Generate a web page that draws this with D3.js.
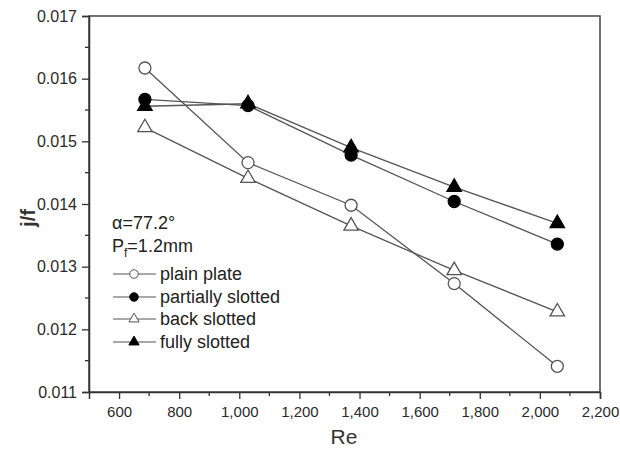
<!DOCTYPE html>
<html><head><meta charset="utf-8">
<script src="https://cdn.jsdelivr.net/npm/d3@7"></script>
<style>body{margin:0;background:#fff}svg{display:block}</style>
</head><body><svg id="c" width="620" height="449"></svg>
<script>
const reValues = [686, 1029, 1372, 1715, 2058];
const plainPlate = [0.01617, 0.01466, 0.01398, 0.01273, 0.01141];
const partiallySlotted = [0.01567, 0.01557, 0.01478, 0.01404, 0.01336];
const backSlotted = [0.01522, 0.01441, 0.01365, 0.01294, 0.01228];
const fullySlotted = [0.01556, 0.01560, 0.01490, 0.01427, 0.01369];
const seriesNames = ["plain plate", "partially slotted", "back slotted", "fully slotted"];
const xTicks = [600, 800, 1000, 1200, 1400, 1600, 1800, 2000, 2200];
const yTicks = [0.011, 0.012, 0.013, 0.014, 0.015, 0.016, 0.017];
const xDomain = [500, 2200];
const yDomain = [0.011, 0.017];

const svg = d3.select("#c");
const L = 89, R = 600, T = 16, B = 392;
const x = d3.scaleLinear().domain(xDomain).range([L, R]);
const y = d3.scaleLinear().domain(yDomain).range([B, T]);
const axisColor = "#333";
const lineColor = "#555";
const font = "Liberation Sans, Arial, sans-serif";

const series = [
  {name: seriesNames[0], vals: plainPlate, shape: "circle", fill: "#fff"},
  {name: seriesNames[1], vals: partiallySlotted, shape: "circle", fill: "#000"},
  {name: seriesNames[2], vals: backSlotted, shape: "triangle", fill: "#fff"},
  {name: seriesNames[3], vals: fullySlotted, shape: "triangle", fill: "#000"}
];
const drawOrder = [0, 2, 3, 1];

// frame
svg.append("rect").attr("x", L).attr("y", T).attr("width", R - L).attr("height", B - T)
  .attr("fill", "none").attr("stroke", "#444").attr("stroke-width", 1.5);

// minor ticks
const xMinor = d3.range(500, 2201, 100).filter(v => !xTicks.includes(v) && v !== 500);
const yMinor = d3.range(0, 6).map(i => +(0.0115 + i * 0.001).toFixed(4));
svg.append("g").selectAll("line").data(xMinor).join("line")
  .attr("x1", d => x(d)).attr("x2", d => x(d)).attr("y1", B).attr("y2", B + 4)
  .attr("stroke", axisColor).attr("stroke-width", 1.3);
svg.append("g").selectAll("line").data(yMinor).join("line")
  .attr("y1", d => y(d)).attr("y2", d => y(d)).attr("x1", L).attr("x2", L - 4)
  .attr("stroke", axisColor).attr("stroke-width", 1.3);

// axes
const xAxis = svg.append("g").attr("transform", `translate(0,${B})`)
  .call(d3.axisBottom(x).tickValues(xTicks).tickSizeOuter(0).tickSize(7).tickPadding(4)
    .tickFormat(d3.format(",")));
const yAxis = svg.append("g").attr("transform", `translate(${L},0)`)
  .call(d3.axisLeft(y).tickValues(yTicks).tickSizeOuter(0).tickSize(7).tickPadding(5)
    .tickFormat(d3.format(".3f")));
[xAxis, yAxis].forEach(g => {
  g.select(".domain").attr("stroke", axisColor).attr("stroke-width", 1.5);
  g.selectAll(".tick line").attr("stroke", axisColor).attr("stroke-width", 1.3);
  g.selectAll(".tick text").attr("fill", "#2a2a2a").style("font-family", font);
});
xAxis.selectAll(".tick text").attr("dy", "0.9em").style("font-size", "15px");
yAxis.selectAll(".tick text").style("font-size", "16px");

// axis titles
svg.append("text").attr("x", (L + R) / 2 - 0.5).attr("y", 444).attr("text-anchor", "middle")
  .attr("fill", "#333").style("font-family", font).style("font-size", "21px").text("Re");
svg.append("text").attr("transform", "translate(35,218) rotate(-90)").attr("text-anchor", "middle")
  .attr("fill", "#333").style("font-family", font).style("font-size", "20px").style("font-weight", "bold").text("j/f");

// lines
const line = d3.line().x((d, i) => x(reValues[i])).y(d => y(d));
drawOrder.forEach(k => {
  svg.append("path").attr("d", line(series[k].vals)).attr("fill", "none")
    .attr("stroke", lineColor).attr("stroke-width", 1.3);
});

function symbolPath(shape, scale) {
  return d3.symbol().type(shape === "circle" ? d3.symbolCircle : d3.symbolTriangle)
    .size(shape === "circle" ? 113 * scale : 90 * scale)();
}

// markers
drawOrder.forEach(k => {
  const s = series[k];
  svg.append("g").selectAll("path").data(s.vals).join("path")
    .attr("d", symbolPath(s.shape, 1))
    .attr("transform", (d, i) => `translate(${x(reValues[i])},${y(d)})`)
    .attr("fill", s.fill).attr("stroke", s.fill === "#000" ? "#000" : lineColor).attr("stroke-width", 1.3);
});

// annotation
const ann = svg.append("g").attr("fill", "#222").style("font-family", font).style("font-size", "18px");
ann.append("text").attr("x", 112).attr("y", 229).text("α=77.2°");
const pf = ann.append("text").attr("x", 112).attr("y", 252);
pf.append("tspan").text("P");
pf.append("tspan").attr("dy", 5).style("font-size", "12px").text("f");
pf.append("tspan").attr("dy", -5).text("=1.2mm");

// legend
const legY = [274, 297, 319, 342];
series.forEach((s, i) => {
  const g = svg.append("g").attr("transform", `translate(0,${legY[i]})`);
  g.append("line").attr("x1", 113).attr("x2", 156).attr("y1", 0).attr("y2", 0)
    .attr("stroke", lineColor).attr("stroke-width", 1.2);
  g.append("path").attr("d", symbolPath(s.shape, 0.5)).attr("transform", "translate(134,0)")
    .attr("fill", s.fill).attr("stroke", s.fill === "#000" ? "#000" : lineColor).attr("stroke-width", 1);
  g.append("text").attr("x", 160).attr("y", 6).attr("fill", "#222")
    .style("font-family", font).style("font-size", "18px").text(s.name);
});
</script></body></html>
